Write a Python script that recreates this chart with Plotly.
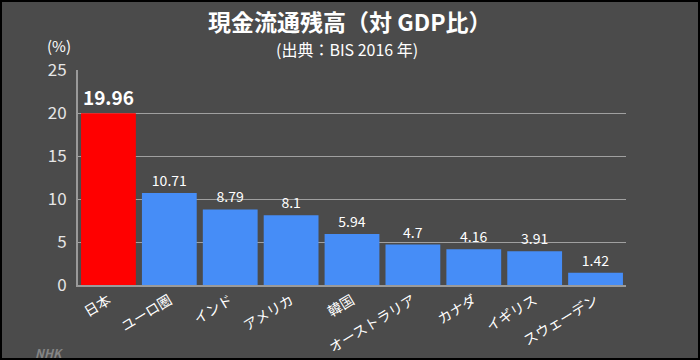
import plotly.graph_objects as go

categories = ["日本", "ユーロ圏", "インド", "アメリカ", "韓国", "オーストラリア", "カナダ", "イギリス", "スウェーデン"]
values = [19.96, 10.71, 8.79, 8.1, 5.94, 4.7, 4.16, 3.91, 1.42]
value_labels = ["<b>19.96</b>", "10.71", "8.79", "8.1", "5.94", "4.7", "4.16", "3.91", "1.42"]
y_ticks = [0, 5, 10, 15, 20, 25]

W, H = 700, 360
L, R, T, B = 78, 74, 70, 75
pw, ph = W - L - R, H - T - B

def px(x):
    return (x - L) / pw

def py(y):
    return 1 - (y - T) / ph

FONT = "Noto Sans CJK JP, Noto Sans, sans-serif"
BG = "#4b4b4b"

colors = ["#ff0000"] + ["#468df7"] * (len(categories) - 1)
sizes = [19] + [14] * (len(categories) - 1)

fig = go.Figure(go.Bar(
    x=categories, y=values,
    marker=dict(color=colors, line=dict(width=0)),
    text=value_labels, textposition="outside",
    textfont=dict(color="white", size=sizes, family=FONT),
    cliponaxis=False,
    width=0.9,
))

fig.update_layout(
    width=W, height=H,
    margin=dict(l=L, r=R, t=T, b=B, autoexpand=False),
    paper_bgcolor="#000000",
    plot_bgcolor="rgba(0,0,0,0)",
    showlegend=False,
    font=dict(family=FONT, color="white"),
    bargap=0.1,
    xaxis=dict(
        tickangle=-31, tickfont=dict(size=14, color="white"),
        showline=True, linecolor="#9a9a9a", linewidth=2,
        showgrid=False, ticks="", range=[-0.5, 8.5], automargin=False,
    ),
    yaxis=dict(
        range=[0, 25], tickvals=y_ticks,
        tickfont=dict(size=17, color="#e6e6e6"),
        showgrid=True, gridcolor="#a0a0a0", gridwidth=1,
        showline=True, linecolor="#9a9a9a", linewidth=2,
        zeroline=False, ticks="", ticklabelstandoff=6, automargin=False,
    ),
    shapes=[dict(
        type="rect", xref="paper", yref="paper", layer="below",
        x0=px(2), x1=px(W - 2), y0=py(H - 2), y1=py(2),
        fillcolor=BG, line=dict(width=0),
    )],
    annotations=[
        dict(text="<b>現金流通残高（対 GDP比）</b>", xref="paper", yref="paper",
             x=px(349), y=py(21), xanchor="center", yanchor="middle",
             showarrow=False, font=dict(size=23, color="white")),
        dict(text="(出典：BIS 2016 年)", xref="paper", yref="paper",
             x=px(347), y=py(49), xanchor="center", yanchor="middle",
             showarrow=False, font=dict(size=16, color="white")),
        dict(text="(%)", xref="paper", yref="paper",
             x=px(59), y=py(45), xanchor="center", yanchor="middle",
             showarrow=False, font=dict(size=15, color="white")),
        dict(text="<i><b>NHK</b></i>", xref="paper", yref="paper",
             x=px(33), y=py(352), xanchor="left", yanchor="middle",
             showarrow=False, font=dict(size=12, color="#858585")),
    ],
)

fig.write_html("out.html", config={"displayModeBar": False},
               post_script="document.body.style.margin='0';document.body.style.padding='0';")
